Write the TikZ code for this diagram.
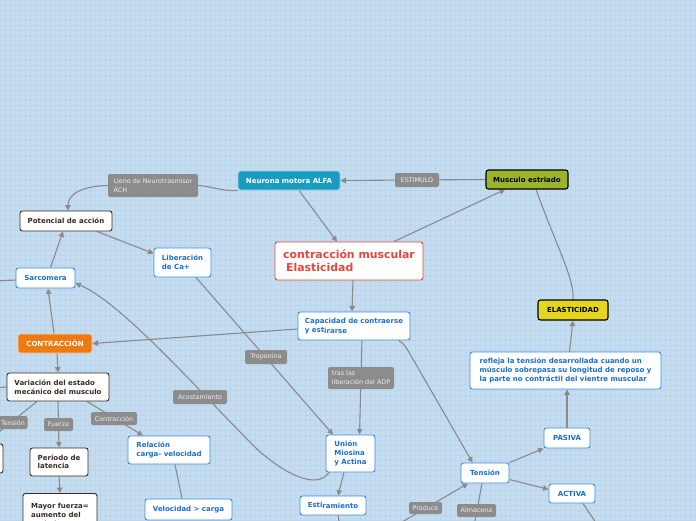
\documentclass[tikz,border=0pt]{standalone}
\usepackage{fontspec}
\setmainfont{DejaVu Sans}
\usetikzlibrary{arrows.meta}
\pgfdeclarelayer{back}
\pgfdeclarelayer{edges}
\pgfsetlayers{back,edges,main}
\definecolor{bgc}{HTML}{C5DDF0}
\definecolor{gridc}{HTML}{BCD5EB}
\definecolor{edgec}{HTML}{8A8A8A}
\definecolor{bluebd}{HTML}{3A8EE0}
\definecolor{bluetx}{HTML}{1A6ED0}
\definecolor{darkbd}{HTML}{3A2A20}
\definecolor{labgray}{HTML}{8C8C8C}
\definecolor{labtx}{HTML}{EEEEEE}
\definecolor{redc}{HTML}{E8453C}
\definecolor{tealc}{HTML}{1A9CC0}
\definecolor{orangec}{HTML}{EE7A12}
\definecolor{olivec}{HTML}{9CB42C}
\definecolor{yellowc}{HTML}{E4D61C}
\tikzset{
  box/.style={rounded corners=2.5pt, line width=0.9pt, inner xsep=3pt, inner ysep=1pt, align=left, font=\bfseries\fontsize{7}{8.7}\selectfont},
  bluebox/.style={box, draw=bluebd, fill=white, text=bluetx},
  darkbox/.style={box, draw=darkbd, fill=white, text=darkbd},
  lab/.style={rounded corners=2pt, fill=labgray, text=labtx, inner xsep=2pt, inner ysep=1pt, align=left, font=\fontsize{6.4}{9}\selectfont},
  con/.style={draw=edgec, line width=1.1pt},
  arr/.style={con, -{Triangle[length=5.5pt,width=5.5pt]}},
  sz/.style 2 args={minimum width=#1pt, minimum height=#2pt},
}
\begin{document}
\begin{tikzpicture}[x=1pt,y=-1pt]
\useasboundingbox (0,0) rectangle (696,520);
\begin{pgfonlayer}{back}
  \fill[bgc] (0,0) rectangle (696,520);
  \foreach \i in {0,5,...,695} \draw[gridc, line width=0.3pt] (\i,0) -- (\i,520);
  \foreach \j in {0,5,...,520} \draw[gridc, line width=0.3pt] (0,\j) -- (696,\j);
\end{pgfonlayer}

% main nodes
\node[box, fill=tealc, draw=white!60!tealc, text=white, sz={102}{19}] (neur) at (289,180.5) {Neurona motora ALFA};
\node[box, fill=olivec, draw=black, line width=1.1pt, text=black, sz={82}{19}] (musc) at (527,179.5) {Musculo estriado};
\node[darkbox, sz={92}{20}] (pot) at (66,221) {Potencial de acción};
\node[bluebox, sz={57}{29}] (lib) at (182.5,262.5) {Liberación\\de Ca+};
\node[box, draw=redc, fill=white, text=redc, font=\bfseries\fontsize{10.9}{13.3}\selectfont, sz={148}{38}] (main) at (349,261) {contracción muscular\\\hspace*{3pt}Elasticidad};
\node[bluebox, sz={59}{20}] (sarc) at (45.5,278) {Sarcomera};
\node[box, fill=orangec, draw=white!60!orangec, text=white, sz={74}{19}] (contr) at (55,343.5) {CONTRACCIÓN};
\node[bluebox, sz={112}{28}] (cap) at (354,326) {Capacidad de contraerse\\y est\raisebox{-1.2pt}{irarse}};
\node[box, fill=yellowc, draw=black, line width=1.1pt, text=black, sz={70}{20}] (elas) at (573,310) {ELASTICIDAD};
\node[bluebox, sz={191}{37}] (refl) at (565.5,370.5) {refleja la tensión desarrollada cuando un\\músculo sobrepasa su longitud de reposo y\\la parte no contráctil del vientre muscular};
\node[darkbox, sz={102}{28}] (var) at (58,387) {Variación del estado\\mecánico del musculo};
\node[bluebox, sz={82}{28}] (rel) at (169,450) {Relación\\carga- velocidad};
\node[bluebox, sz={49}{37}] (union) at (350.5,453.5) {Unión\\Miosina\\y Actina};
\node[bluebox, sz={46}{20}] (pasiva) at (567,438) {PASIVA};
\node[bluebox, sz={48}{20}] (tens) at (485,473) {Tensión};
\node[bluebox, sz={46}{19}] (activa) at (572,493.5) {ACTIVA};
\node[darkbox, sz={58}{28}] (per) at (59,462) {Periodo de\\latencia};
\node[darkbox, sz={63}{29}] (leftcut) at (-28.5,458.5) {};
\node[darkbox, sz={74}{44}] (mayor) at (60,515.5) {Mayor fuerza=\\aumento del\\periodo};
\node[bluebox, sz={87}{21}] (velo) at (188.5,509.5) {Velocidad > carga};
\node[bluebox, sz={66}{19}] (estir) at (333,505.5) {Esti\raisebox{-1.2pt}{ramiento}};

% labels
\node[lab, sz={44}{14}] (estim) at (417,180) {ESTIMULO};
\node[lab, sz={90}{23}] (lleno) at (153,185.5) {Lleno de Neurotrasmisor\\ACH};
\node[lab, sz={42}{14}] (tropo) at (266,357) {Troponina};
\node[lab, sz={66}{22}] (tras) at (361,378) {tras las\\liberación del ADP};
\node[lab, sz={54}{14}] (acost) at (200,397) {Acostamiento};
\node[lab, sz={29}{13}] (tenslab) at (13,422.5) {Tensión};
\node[lab, sz={29}{13}] (fuerza) at (58.5,424.5) {Fuerza};
\node[lab, sz={46}{13}] (contrlab) at (114,418.5) {Contracción};
\node[lab, sz={33}{12}] (produce) at (425.5,508) {Produce};
\node[lab, sz={39}{13}] (almac) at (476.5,510.5) {Almacena};

\coordinate (offA) at (598,526);
\coordinate (offB) at (474,526);
\coordinate (offC) at (397,525);
\coordinate (offD) at (340,526);
\coordinate (offE) at (-5,281);
\coordinate (offF) at (-5,388);

\begin{pgfonlayer}{edges}
\draw[arr] (musc.west) -- (neur.east);
\draw[arr] ([xshift=10pt]neur.south) -- ([xshift=-12pt]main.north);
\draw[arr] ([xshift=45pt]main.north) -- ([xshift=-22pt]musc.south);
\draw[con] ([xshift=9pt]musc.south) .. controls (556,245) and (575,280) .. (elas.north);
\draw[arr] ([xshift=4pt]refl.north) -- (elas.south);
\draw[arr] (pasiva.north) -- (pasiva.north |- refl.south);
\draw[arr] (tens.north east) -- (pasiva.south west);
\draw[arr] (tens.-15) -- (activa.170);
\draw[con] ([xshift=11pt]activa.south) -- (offA);
\draw[arr] ([xshift=-12pt]cap.south east) .. controls (404,343) and (407,349) .. (410,354) -- (tens.140);
\draw[con] ([xshift=-3pt]tens.south) -- (offB);
\draw[arr] (offC) -- ([xshift=-17pt]tens.south);
\draw[arr] ([xshift=4pt]main.south) -- ([xshift=-2pt]cap.north);
\draw[arr] ([yshift=-3pt]cap.west) -- (contr.east);
\draw[arr] ([xshift=8pt]cap.south) -- ([xshift=9pt]union.north);
\draw[arr] ([xshift=13.5pt]lib.south) -- ([xshift=-17.5pt]union.north);
\draw[arr] ([xshift=4pt,yshift=1pt]union.south west) .. controls (320,488) and (292,480) .. (258,450) .. controls (205,398) and (125,305) .. ([yshift=-5pt]sarc.east);
\draw[arr] ([xshift=-6.5pt]union.south) -- ([xshift=5pt]estir.north);
\draw[con] ([xshift=5pt]estir.south) -- (offD);
\draw[arr] ([xshift=31pt]pot.south) -- ([yshift=9pt]lib.west);
\draw[arr] (neur.south west) .. controls (225,192) and (210,186) .. (lleno.east) -- (lleno.west) .. controls (82,186) and (68,194) .. ([xshift=2pt]pot.north);
\draw[arr] ([xshift=5pt]sarc.north) -- ([xshift=-3pt]pot.south);
\draw[arr] ([xshift=-1pt]contr.north) -- ([xshift=2.5pt]sarc.south);
\draw[con] ([yshift=-2pt]sarc.west) -- (offE);
\draw[arr] ([xshift=2pt]contr.south) -- (var.north);
\draw[con] (var.west) -- (offF);
\draw[arr] ([xshift=-21pt]var.south) -- ([xshift=13pt]leftcut.north);
\draw[arr] (var.south) -- (per.north);
\draw[arr] ([xshift=29pt]var.south) -- ([xshift=-26pt]rel.north);
\draw[arr] (per.south) -- (mayor.north);
\draw[con] ([xshift=6pt]rel.south) -- ([xshift=-6.5pt]velo.north);
\end{pgfonlayer}
\end{tikzpicture}
\end{document}
